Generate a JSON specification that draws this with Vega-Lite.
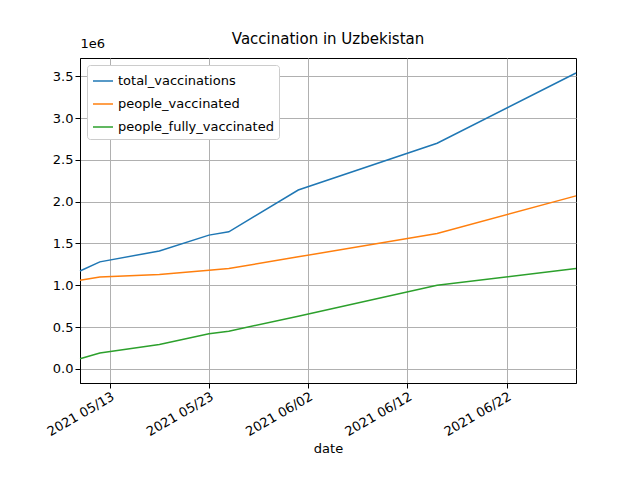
{
  "$schema": "https://vega.github.io/schema/vega-lite/v6.json",
  "autosize": {"type": "none"},
  "padding": {"left": 80, "top": 58, "right": 64, "bottom": 97},
  "width": 496,
  "height": 325,
  "title": {"text": "Vaccination in Uzbekistan", "font": "DejaVu Sans", "fontSize": 15, "fontWeight": "normal", "offset": 6, "dy": 16},
  "data": {
    "values": [
      {"date": "2021-05-10", "series": "total_vaccinations", "value": 1170000},
      {"date": "2021-05-12", "series": "total_vaccinations", "value": 1280000},
      {"date": "2021-05-18", "series": "total_vaccinations", "value": 1410000},
      {"date": "2021-05-23", "series": "total_vaccinations", "value": 1600000},
      {"date": "2021-05-25", "series": "total_vaccinations", "value": 1640000},
      {"date": "2021-06-01", "series": "total_vaccinations", "value": 2140000},
      {"date": "2021-06-15", "series": "total_vaccinations", "value": 2700000},
      {"date": "2021-06-29", "series": "total_vaccinations", "value": 3540000},
      {"date": "2021-05-10", "series": "people_vaccinated", "value": 1060000},
      {"date": "2021-05-12", "series": "people_vaccinated", "value": 1100000},
      {"date": "2021-05-18", "series": "people_vaccinated", "value": 1130000},
      {"date": "2021-05-23", "series": "people_vaccinated", "value": 1180000},
      {"date": "2021-05-25", "series": "people_vaccinated", "value": 1200000},
      {"date": "2021-06-01", "series": "people_vaccinated", "value": 1340000},
      {"date": "2021-06-15", "series": "people_vaccinated", "value": 1620000},
      {"date": "2021-06-29", "series": "people_vaccinated", "value": 2070000},
      {"date": "2021-05-10", "series": "people_fully_vaccinated", "value": 120000},
      {"date": "2021-05-12", "series": "people_fully_vaccinated", "value": 190000},
      {"date": "2021-05-18", "series": "people_fully_vaccinated", "value": 290000},
      {"date": "2021-05-23", "series": "people_fully_vaccinated", "value": 420000},
      {"date": "2021-05-25", "series": "people_fully_vaccinated", "value": 450000},
      {"date": "2021-06-01", "series": "people_fully_vaccinated", "value": 630000},
      {"date": "2021-06-15", "series": "people_fully_vaccinated", "value": 1000000},
      {"date": "2021-06-29", "series": "people_fully_vaccinated", "value": 1200000}
    ]
  },
  "mark": {"type": "line", "strokeWidth": 1.5},
  "encoding": {
    "x": {
      "field": "date", "type": "temporal",
      "scale": {"type": "utc", "domain": [{"year": 2021, "month": 5, "date": 10, "utc": true}, {"year": 2021, "month": 6, "date": 29, "utc": true}]},
      "axis": {
        "title": "date", "labelExpr": "utcFormat(datum.value, '%Y %m/%d')", "labelAngle": -30, "labelAlign": "right", "labelBaseline": "top",
        "values": [
          {"year": 2021, "month": 5, "date": 13, "utc": true},
          {"year": 2021, "month": 5, "date": 23, "utc": true},
          {"year": 2021, "month": 6, "date": 2, "utc": true},
          {"year": 2021, "month": 6, "date": 12, "utc": true},
          {"year": 2021, "month": 6, "date": 22, "utc": true}
        ]
      }
    },
    "y": {
      "field": "value", "type": "quantitative",
      "scale": {"domain": [-170000, 3720000], "nice": false, "zero": false},
      "axis": {
        "values": [0, 500000, 1000000, 1500000, 2000000, 2500000, 3000000, 3500000],
        "labelExpr": "format(datum.value / 1e6, '.1f')",
        "title": "1e6", "titleAngle": 0, "titleX": 0, "titleY": -8, "titleAlign": "left", "titleFontWeight": "normal", "titleFontSize": 13
      }
    },
    "color": {
      "field": "series", "type": "nominal",
      "sort": ["total_vaccinations", "people_vaccinated", "people_fully_vaccinated"],
      "scale": {"range": ["#1f77b4", "#ff7f0e", "#2ca02c"]},
      "legend": {
        "title": null, "orient": "top-left", "offset": 7, "symbolType": "stroke", "symbolSize": 400, "symbolStrokeWidth": 1.5,
        "labelFontSize": 13, "labelFont": "DejaVu Sans", "fillColor": "white", "strokeColor": "#cccccc", "padding": 5, "cornerRadius": 3, "rowPadding": 5
      }
    }
  },
  "config": {
    "font": "DejaVu Sans",
    "view": {"stroke": "black"},
    "axis": {"grid": true, "gridColor": "#b0b0b0", "domainColor": "black", "tickColor": "black", "labelColor": "black", "titleColor": "black", "labelFontSize": 13, "titleFontSize": 13, "titleFontWeight": "normal", "labelFont": "DejaVu Sans", "titleFont": "DejaVu Sans"}
  }
}
